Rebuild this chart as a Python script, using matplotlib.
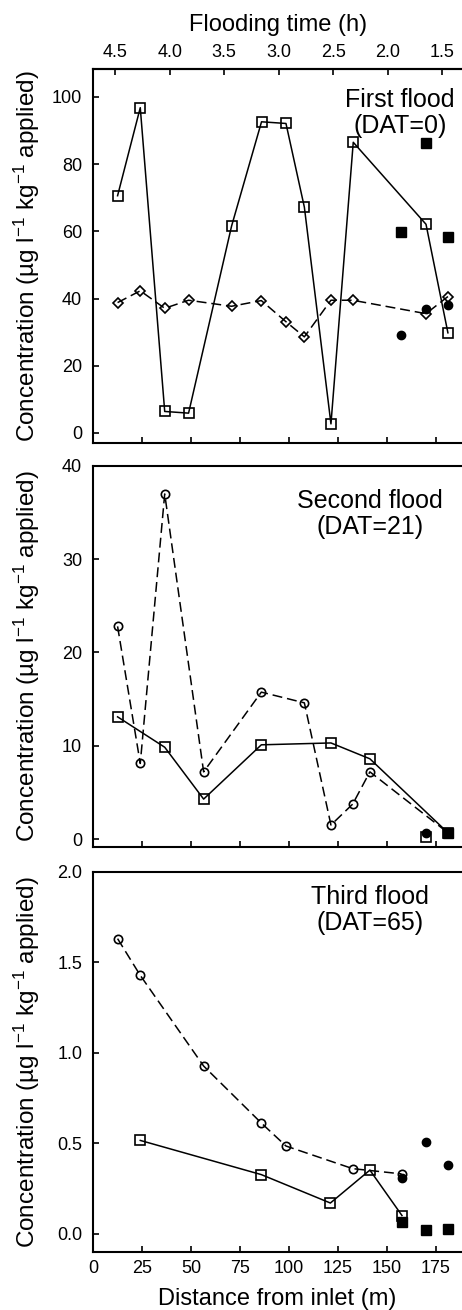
import matplotlib
matplotlib.use('Agg')
import matplotlib.pyplot as plt
from matplotlib.ticker import FormatStrFormatter

plt.rcParams['font.family'] = ['Liberation Sans', 'DejaVu Sans']
plt.rcParams['mathtext.fontset'] = 'custom'
plt.rcParams['mathtext.rm'] = 'Liberation Sans'
plt.rcParams['mathtext.default'] = 'regular'

# first flood (DAT=0)
d1_sq = [12.4, 24.0, 36.5, 48.7, 70.7, 86.0, 98.5, 107.9, 121.5, 132.9, 170.1, 181.3]
c1_sq = [70.6, 96.8, 6.4, 5.9, 61.6, 92.6, 92.1, 67.2, 2.7, 86.5, 62.1, 29.8]
d1_dm = [12.4, 24.0, 36.5, 48.7, 70.7, 85.9, 98.5, 107.9, 121.5, 132.6, 170.1, 181.3]
c1_dm = [38.8, 42.3, 37.1, 39.5, 37.7, 39.4, 33.1, 28.6, 39.5, 39.5, 35.5, 40.6]
d1_fsq = [157.3, 170.1, 181.3]
c1_fsq = [59.8, 86.4, 58.2]
d1_fci = [157.3, 170.1, 181.3]
c1_fci = [29.2, 36.8, 38.2]

# second flood (DAT=21)
d2_sq = [12.4, 36.5, 56.4, 85.9, 121.5, 141.4, 181.3]
c2_sq = [13.1, 9.84, 4.28, 10.1, 10.3, 8.6, 0.67]
d2_ci = [12.4, 24.0, 36.5, 56.4, 85.9, 107.9, 121.5, 132.6, 141.4, 181.3]
c2_ci = [22.8, 8.1, 37.0, 7.2, 15.75, 14.6, 1.5, 3.74, 7.2, 0.67]
d2_osq = [170.1]
c2_osq = [0.18]
d2_fsq = [181.3]
c2_fsq = [0.67]
d2_fci = [170.1]
c2_fci = [0.67]

# third flood (DAT=65)
d3_ci = [12.4, 24.0, 56.4, 85.9, 98.5, 132.6, 157.6]
c3_ci = [1.63, 1.427, 0.926, 0.611, 0.484, 0.359, 0.33]
d3_sq = [24.0, 85.9, 121.2, 141.4, 157.8]
c3_sq = [0.515, 0.326, 0.169, 0.351, 0.10]
d3_fsq = [157.8, 170.1, 181.3]
c3_fsq = [0.064, 0.018, 0.024]
d3_fci = [157.6, 170.1, 181.3]
c3_fci = [0.31, 0.506, 0.377]

x_ticks = [0, 25, 50, 75, 100, 125, 150, 175]
t_ticks = [4.5, 4.0, 3.5, 3.0, 2.5, 2.0, 1.5]
ylabel = 'Concentration (µg l$^{-1}$ kg$^{-1}$ applied)'


def d_to_t(d):
    return 4.5 - (d - 11.25) / 55.7


def t_to_d(t):
    return 11.25 + (4.5 - t) * 55.7


fig = plt.figure(figsize=(4.62, 13.1), dpi=100)
ax1 = fig.add_axes([0.202, 0.6618, 0.798, 0.2855])
ax2 = fig.add_axes([0.202, 0.3537, 0.798, 0.2906])
ax3 = fig.add_axes([0.202, 0.0445, 0.798, 0.2901])

line_kw = dict(color='black', lw=1.1)
open_kw = dict(mfc='none', mec='black', mew=1.2)
dash = [6.5, 3.2]

# panel 1
ax1.plot(d1_sq, c1_sq, marker='s', ms=6.5, **line_kw, **open_kw)
ax1.plot(d1_dm, c1_dm, marker='D', ms=5.5, ls='--', dashes=dash, **line_kw, **open_kw)
ax1.plot(d1_fsq, c1_fsq, 's', color='black', ms=6.5)
ax1.plot(d1_fci, c1_fci, 'o', color='black', ms=6)
ax1.set_ylim(-3, 108.3)
ax1.set_yticks([0, 20, 40, 60, 80, 100])

# panel 2
ax2.plot(d2_sq, c2_sq, marker='s', ms=6.5, **line_kw, **open_kw)
ax2.plot(d2_ci, c2_ci, marker='o', ms=6, ls='--', dashes=dash, **line_kw, **open_kw)
ax2.plot(d2_osq, c2_osq, 's', ms=6.5, **open_kw)
ax2.plot(d2_fci, c2_fci, 'o', color='black', ms=6)
ax2.plot(d2_fsq, c2_fsq, 's', color='black', ms=7)
ax2.set_ylim(-0.82, 40)
ax2.set_yticks([0, 10, 20, 30, 40])

# panel 3
ax3.plot(d3_ci, c3_ci, marker='o', ms=6, ls='--', dashes=dash, **line_kw, **open_kw)
ax3.plot(d3_sq, c3_sq, marker='s', ms=6.5, **line_kw, **open_kw)
ax3.plot(d3_fsq, c3_fsq, 's', color='black', ms=6.5)
ax3.plot(d3_fci, c3_fci, 'o', color='black', ms=6)
ax3.set_ylim(-0.10, 2.0)
ax3.set_yticks([0.0, 0.5, 1.0, 1.5, 2.0])
ax3.yaxis.set_major_formatter(FormatStrFormatter('%.1f'))

texts = ['First flood\n(DAT=0)', 'Second flood\n(DAT=21)', 'Third flood\n(DAT=65)']
tpos = [(0.832, 0.882), (0.751, 0.875), (0.751, 0.90)]
for ax, txt, (tx, ty) in zip([ax1, ax2, ax3], texts, tpos):
    ax.set_xlim(0, 188.5)
    ax.set_xticks(x_ticks)
    ax.spines['right'].set_visible(False)
    for s in ['left', 'bottom', 'top']:
        ax.spines[s].set_linewidth(1.5)
    ax.tick_params(axis='both', direction='in', length=4, width=1.2,
                   labelsize=13, pad=8)
    ax.tick_params(axis='x', pad=6)
    ax.set_ylabel(ylabel, fontsize=17.5)
    ax.yaxis.set_label_coords(-0.138, 0.5)
    ax.text(tx, ty, txt, transform=ax.transAxes, ha='center', va='center',
            fontsize=18, linespacing=1.1)

ax1.tick_params(axis='x', labelbottom=False)
ax2.tick_params(axis='x', labelbottom=False)
ax3.set_xlabel('Distance from inlet (m)', fontsize=17, labelpad=8)

sec = ax1.secondary_xaxis('top', functions=(d_to_t, t_to_d))
sec.set_xticks(t_ticks)
sec.xaxis.set_major_formatter(FormatStrFormatter('%.1f'))
sec.tick_params(direction='in', length=4, width=1.2, labelsize=13, pad=6)
sec.spines['top'].set_linewidth(1.5)
sec.set_xlabel('Flooding time (h)', fontsize=17, labelpad=9)

fig.savefig('out.png', dpi=100)
